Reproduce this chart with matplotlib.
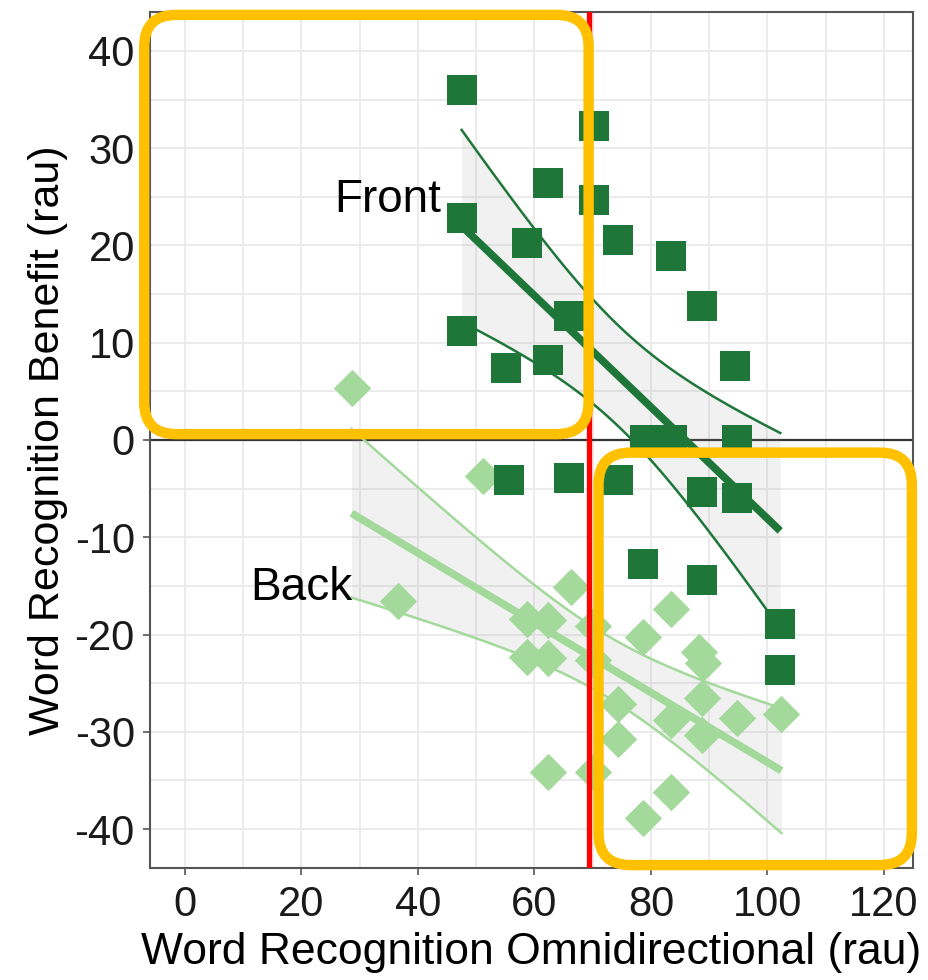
import numpy as np
import matplotlib
matplotlib.use('Agg')
import matplotlib.pyplot as plt
from matplotlib.patches import FancyBboxPatch
from matplotlib.ticker import MultipleLocator

plt.rcParams['font.family'] = ['Liberation Sans', 'DejaVu Sans']
plt.rcParams['axes.unicode_minus'] = False

# Datos (rau)
front_x = [47.5, 70.3, 62.3, 70.2, 47.5, 58.7, 74.3, 83.5, 88.7, 66.0, 47.5, 94.5, 55.1,
           62.3, 79.0, 83.7, 94.7, 55.6, 66.0, 74.3, 88.7, 94.7, 78.6, 88.7, 102.2, 102.2]
front_y = [36.0, 32.3, 26.4, 24.7, 22.8, 20.3, 20.6, 18.9, 13.8, 12.7, 11.2, 7.6, 7.4,
           8.2, 0.0, 0.0, 0.0, -4.1, -3.9, -4.1, -5.3, -6.0, -12.7, -14.4, -18.9, -23.6]

back_x = [28.6, 36.5, 51.2, 58.7, 62.4, 58.7, 62.4, 62.4, 66.2, 70.1, 70.1, 70.1, 74.3,
          74.3, 78.7, 78.7, 83.5, 83.5, 83.5, 88.2, 89.0, 88.7, 88.7, 94.7, 102.4]
back_y = [5.3, -16.6, -3.7, -18.4, -18.5, -22.3, -22.4, -34.1, -15.1, -19.1, -22.6, -34.1, -27.1,
          -30.7, -20.3, -38.9, -17.4, -28.8, -36.2, -21.8, -22.9, -26.5, -30.3, -28.6, -28.2]

corte_x = 69.3

verde_osc = '#1e7638'
verde_cla = '#a3d99b'


def ajuste_lineal(x, y):
    # regresion lineal con intervalo de confianza del 95 %
    x = np.asarray(x, float)
    y = np.asarray(y, float)
    n = len(x)
    b, a = np.polyfit(x, y, 1)
    res = y - (a + b * x)
    s = np.sqrt(np.sum(res ** 2) / (n - 2))
    df = n - 2
    z = 1.959964
    t = z + (z ** 3 + z) / (4 * df) + (5 * z ** 5 + 16 * z ** 3 + 3 * z) / (96 * df ** 2)
    xs = np.linspace(x.min(), x.max(), 100)
    ys = a + b * xs
    se = s * np.sqrt(1 / n + (xs - x.mean()) ** 2 / np.sum((x - x.mean()) ** 2))
    return xs, ys, ys - t * se, ys + t * se


fig = plt.figure(figsize=(9.29, 9.80), dpi=100)
ax = fig.add_axes([0.1615, 0.1143, 0.8213, 0.8735])

ax.set_xlim(-6, 125)
ax.set_ylim(-44, 44)
ax.xaxis.set_major_locator(MultipleLocator(20))
ax.xaxis.set_minor_locator(MultipleLocator(10))
ax.yaxis.set_major_locator(MultipleLocator(10))
ax.yaxis.set_minor_locator(MultipleLocator(5))
ax.grid(which='both', color='#ebebeb', linewidth=1.4, zorder=0)
ax.set_axisbelow(True)
ax.tick_params(which='minor', length=0)
ax.tick_params(which='major', length=5, width=1.2, color='#555555',
               labelsize=30, labelcolor='#1a1a1a')
ax.tick_params(axis='x', pad=7)
ax.tick_params(axis='y', pad=6)
for sp in ax.spines.values():
    sp.set_color('#555555')
    sp.set_linewidth(1.5)

ax.axhline(0, color='#333333', linewidth=1.6, zorder=1)

# bandas y rectas de ajuste
for xs_d, ys_d, col in [(back_x, back_y, verde_cla), (front_x, front_y, verde_osc)]:
    xs, ys, lo, hi = ajuste_lineal(xs_d, ys_d)
    ax.fill_between(xs, lo, hi, color='#999999', alpha=0.13, linewidth=0, zorder=1.5)
    ax.plot(xs, lo, color=col, linewidth=1.8, zorder=2)
    ax.plot(xs, hi, color=col, linewidth=1.8, zorder=2)
    ax.plot(xs, ys, color=col, linewidth=5.5, solid_capstyle='butt', zorder=2)

ax.scatter(back_x, back_y, marker='D', s=19 ** 2, color=verde_cla, linewidths=0, zorder=3)
ax.scatter(front_x, front_y, marker='s', s=21.5 ** 2, color=verde_osc, linewidths=0, zorder=4)

ax.axvline(corte_x, color='#ff0000', linewidth=3.8, zorder=5)

ax.text(34.8, 24.7, 'Front', fontsize=33, ha='center', va='center', color='black', zorder=6)
ax.text(19.9, -15.2, 'Back', fontsize=33, ha='center', va='center', color='black', zorder=6)

ax.set_xlabel('Word Recognition Omnidirectional (rau)', fontsize=32, labelpad=5)
ax.set_ylabel('Word Recognition Benefit (rau)', fontsize=31, labelpad=5)

# recuadros amarillos (en pulgadas, a partir de las coordenadas de los datos)
def a_pulgadas(x, y):
    px = ax.transData.transform((x, y))
    return px / fig.dpi

amarillo = '#ffc000'
for (x0, y0, x1, y1) in [(-7.0, 0.6, 69.3, 43.7), (71.0, -43.7, 124.8, -1.3)]:
    p0 = a_pulgadas(x0, y0)
    p1 = a_pulgadas(x1, y1)
    caja = FancyBboxPatch(p0, p1[0] - p0[0], p1[1] - p0[1],
                          boxstyle='round,pad=0,rounding_size=0.32',
                          transform=fig.dpi_scale_trans, fill=False,
                          edgecolor=amarillo, linewidth=7.5, zorder=10, clip_on=False)
    fig.add_artist(caja)

plt.savefig('out.png', dpi=100)
plt.close()
